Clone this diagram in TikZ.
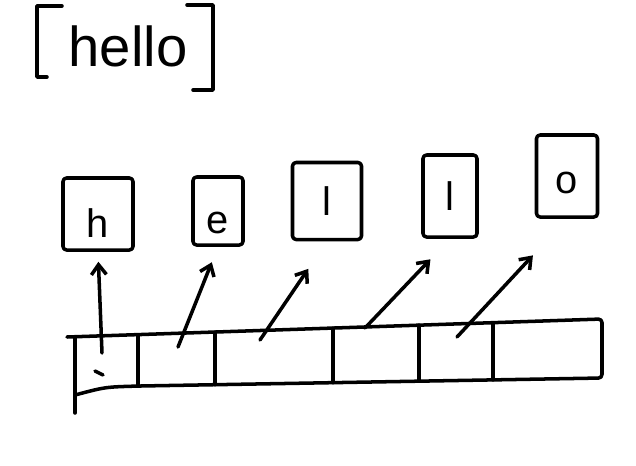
\documentclass[tikz,border=0pt]{standalone}
\usepackage{fontspec}
\setmainfont{Liberation Sans}
\usetikzlibrary{arrows.meta}

\begin{document}
\begin{tikzpicture}[x=0.03cm, y=-0.03cm,
    ink/.style={line width=3pt, line cap=round, line join=round},
    letter/.style={ink, draw, rounded corners=3pt, inner sep=0pt, font=\fontsize{34}{34}\selectfont},
    ptr/.style={ink, -{Straight Barb[length=3mm, width=4.5mm]}}]
  \useasboundingbox (0,0) rectangle (636,465);

  % the string
  \node[font=\fontsize{48}{48}\selectfont] (word) at (128,46) {hello};
  \draw[ink] (62,6) -- (37,6) -- (37,77) -- (47,77);
  \draw[ink] (187,5) -- (213,5) -- (213,90) -- (193,90);

  % characters
  \node[letter, minimum width=2.1cm, minimum height=2.16cm, text height=1.38cm, text depth=0pt] (h) at (98,214) {h};
  \node[letter, minimum width=1.5cm, minimum height=2.04cm, text height=1.34cm, text depth=0pt] (e) at (218,211) {e};
  \node[letter, minimum width=2.07cm, minimum height=2.31cm] (l1) at (327,201) {l};
  \node[letter, minimum width=1.62cm, minimum height=2.46cm] (l2) at (450,196) {l};
  \node[letter, minimum width=1.83cm, minimum height=2.46cm, text height=1.04cm, text depth=0pt] (o) at (567,176) {o};

  % memory strip
  \coordinate (tl) at (75,337);
  \coordinate (tr) at (602,319);
  \coordinate (br) at (602,378);
  \coordinate (bl) at (75,395);
  \draw[ink, rounded corners=3pt] (67,337) -- (tr) -- (br) -- (140,386) .. controls (105,387) .. (bl);
  \draw[ink] (tl) -- (75,413);
  \foreach \x/\yt/\yb in {138/334.8/386, 215/332.2/384.7, 333/328.2/382.7, 419/325.2/381.2, 493/322.7/379.9}
    \draw[ink] (\x,\yt) -- (\x,\yb);
  \draw[ink] (95,371) -- (103,375);

  % pointers
  \coordinate (p0) at (102,353);
  \coordinate (p1) at (178,347);
  \coordinate (p2) at (260,340);
  \coordinate (p3) at (365,328);
  \coordinate (p4) at (457,337);
  \draw[ptr, shorten >=0.3cm] (p0) -- (h.south);
  \draw[ptr, shorten >=0.5cm] (p1) -- (e.south);
  \draw[ptr, shorten >=1cm] (p2) -- (l1.south);
  \draw[ptr, shorten >=0.85cm] (p3) -- (l2.south);
  \draw[ptr, shorten >=1.5cm] (p4) -- (o.south);
\end{tikzpicture}
\end{document}
